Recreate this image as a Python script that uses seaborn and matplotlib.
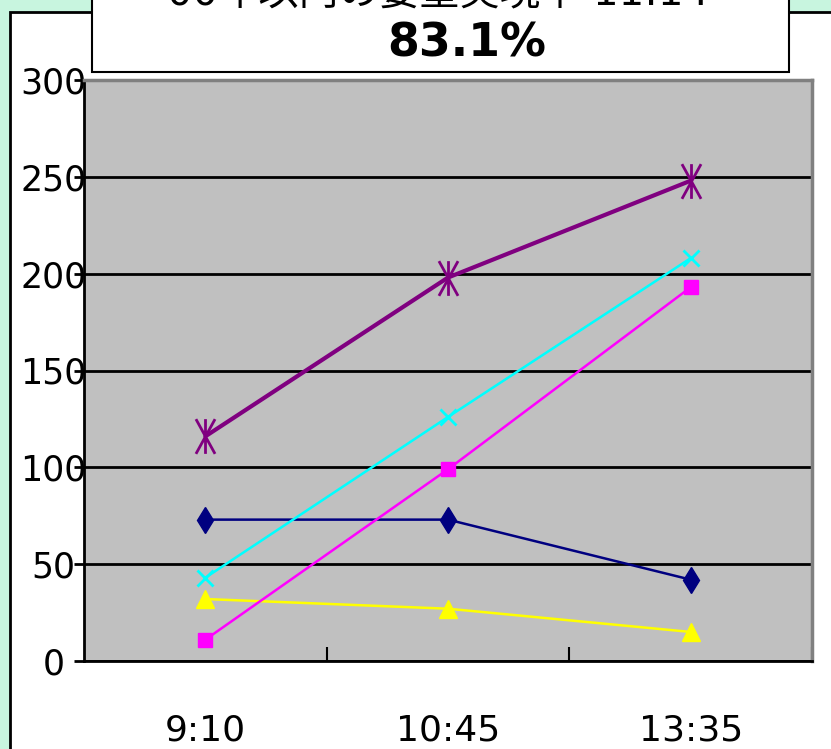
import numpy as np
import pandas as pd
import matplotlib
matplotlib.use('Agg')
import matplotlib.pyplot as plt
import seaborn as sns
from matplotlib.patches import Rectangle
from matplotlib.path import Path

# data
times = ['9:10', '10:45', '13:35']
purple_vals = [116, 198, 248]
cyan_vals = [43, 126, 208]
magenta_vals = [11, 99, 193]
navy_vals = [73, 73, 42]
yellow_vals = [32, 27, 15]
y_ticks = [0, 50, 100, 150, 200, 250, 300]
title_top = '00年以内の要望実現率 11:14'
title_main = '83.1%'

W, H = 831, 749
sns.set_style('white')
plt.rcParams['font.family'] = ['DejaVu Sans', 'Noto Sans CJK JP']
plt.rcParams['text.color'] = 'black'
plt.rcParams['xtick.color'] = 'black'
plt.rcParams['ytick.color'] = 'black'

fig = plt.figure(figsize=(W / 100, H / 100), dpi=100)
fig.patch.set_facecolor('#c8f5df')

def fx(px):
    return px / W

def fy(py):
    return 1 - py / H

# white panel with black frame
fig.patches.append(Rectangle((fx(10), fy(800)), fx(900), (800 - 12) / H,
                             transform=fig.transFigure, facecolor='white',
                             edgecolor='black', lw=2, zorder=-5))

ax = fig.add_axes([fx(84), fy(661), fx(812 - 84), (661 - 80) / H])
ax.set_zorder(1)
ax.set_facecolor('#c0c0c0')

# asterisk marker like the office one
ast = Path([(0, -1), (0, 1), (-0.55, -1), (0.55, 1), (-0.55, 1), (0.55, -1)],
           [Path.MOVETO, Path.LINETO, Path.MOVETO, Path.LINETO, Path.MOVETO, Path.LINETO])

series = [
    (yellow_vals, '#ffff00', '^', 13, 1.8, 1),
    (navy_vals, '#000080', 'd', 13, 1.8, 1),
    (magenta_vals, '#ff00ff', 's', 10, 1.8, 1),
    (cyan_vals, '#00ffff', 'x', 11, 1.8, 2),
    (purple_vals, '#800080', ast, 25, 3.0, 2),
]
for vals, col, mk, ms, lw, mew in series:
    df = pd.DataFrame({'time': times, 'value': vals})
    sns.lineplot(data=df, x='time', y='value', ax=ax, color=col, lw=lw, marker=mk,
                 markersize=ms, markeredgecolor=col, markerfacecolor=col,
                 markeredgewidth=mew, sort=False, zorder=3)

ax.set_xlim(-0.5, 2.5)
ax.set_ylim(0, 300)
ax.set_yticks(y_ticks)
ax.set_yticklabels([str(v) for v in y_ticks], fontsize=25, ha='center')
ax.yaxis.grid(True, color='black', lw=2)
ax.set_axisbelow(True)
ax.tick_params(axis='y', direction='out', length=7, width=2, color='black', pad=15, left=True)
ax.set_xticks([0, 1, 2])
ax.set_xticklabels(times, fontsize=26)
ax.set_xticks([0.5, 1.5, 2.5], minor=True)
ax.tick_params(axis='x', which='major', length=0, pad=38)
ax.tick_params(axis='x', which='minor', direction='in', length=10, width=1.5,
               color='black', bottom=True)
ax.set_xlabel('')
ax.set_ylabel('')
for side in ['left', 'bottom']:
    ax.spines[side].set_color('black')
    ax.spines[side].set_linewidth(2)
for side in ['top', 'right']:
    ax.spines[side].set_color('#808080')
    ax.spines[side].set_linewidth(2.5)

# title box, cut by the top edge as in the original
fig.patches.append(Rectangle((fx(92), fy(72)), fx(789 - 92), 100 / H,
                             transform=fig.transFigure, facecolor='white',
                             edgecolor='black', lw=1.5, zorder=5))
fig.text(fx(438), fy(-7), title_top, ha='center', va='center', fontsize=29, zorder=6)
fig.text(fx(467), fy(44), title_main, ha='center', va='center', fontsize=33,
         fontweight='bold', zorder=6)

fig.savefig('out.png', dpi=100, facecolor=fig.get_facecolor())
